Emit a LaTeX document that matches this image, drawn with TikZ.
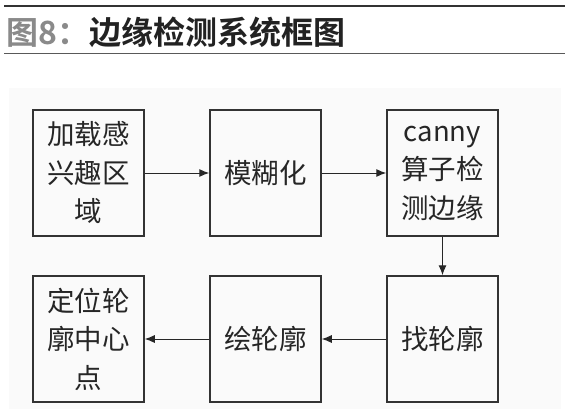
\documentclass[tikz,border=0pt]{standalone}
\usepackage{fontspec}
\setmainfont{Noto Sans CJK SC}
\newfontfamily\cjkbold{Noto Sans CJK SC Bold}
\usetikzlibrary{arrows.meta}
\definecolor{boxline}{HTML}{333333}
\definecolor{titlegray}{HTML}{8A8A8A}
\definecolor{titledark}{HTML}{222222}
\definecolor{bgfill}{HTML}{FAFAFA}
\begin{document}
\begin{tikzpicture}[x=1pt,y=-1pt,
  stepbox/.style={draw=boxline,line width=1.5pt,minimum width=111pt,minimum height=126pt,
    inner sep=0pt,align=center,text width=104pt,font=\fontsize{27.5}{38.5}\selectfont,text=black!85},
  flow/.style={draw=black!85,line width=1pt,-{Latex[length=10pt,width=8pt]}}]
\useasboundingbox (0,0) rectangle (570,409);
\fill[white] (0,0) rectangle (570,409);
\fill[bgfill] (9,88) rectangle (561,409);
\draw[line width=2.2pt,black!80] (4,6) -- (565,6);
\draw[line width=1pt,black!65] (4,54) -- (565,54);
\node[anchor=west,inner sep=0pt,font=\cjkbold\fontsize{32}{32}\selectfont] (title) at (6,32.5)
  {\textcolor{titlegray}{图8：}\textcolor{titledark}{边缘检测系统框图}};
\node[stepbox] (a) at (88.5,173) {加载感\\兴趣区\\域};
\node[stepbox] (b) at (265.5,173) {模糊化};
\node[stepbox] (c) at (442.5,173) {canny\\算子检\\测边缘};
\node[stepbox] (d) at (442.5,339) {找轮廓};
\node[stepbox] (e) at (265.5,339) {绘轮廓};
\node[stepbox] (f) at (88.5,339) {定位轮\\廓中心\\点};
\draw[flow] (a) -- (b);
\draw[flow] (b) -- (c);
\draw[flow] (c) -- (d);
\draw[flow] (d) -- (e);
\draw[flow] (e) -- (f);
\end{tikzpicture}
\end{document}
